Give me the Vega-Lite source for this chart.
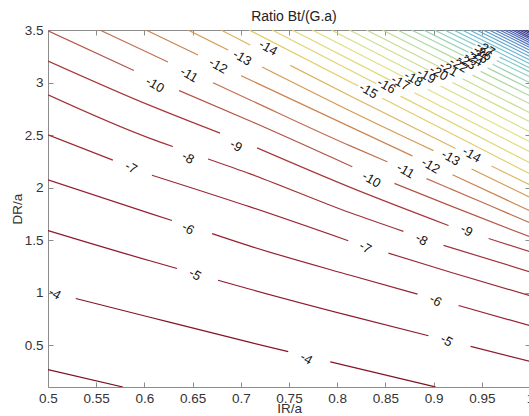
{
  "$schema": "https://vega.github.io/schema/vega-lite/v6.json",
  "width": 482,
  "height": 357,
  "autosize": {"type": "none"},
  "padding": {"left": 48, "top": 30, "right": 0, "bottom": 29},
  "background": "white",
  "title": {"text": "Ratio Bt/(G.a)", "fontSize": 14, "font": "Liberation Sans", "fontWeight": "normal", "color": "#222222", "offset": -1, "dx": 5},
  "config": {
    "view": {"stroke": null},
    "axis": {"grid": false, "tickSize": -5, "labelFlush": false, "domainColor": "#8c8c8c", "tickColor": "#8c8c8c", "labelColor": "#333333", "labelFont": "Liberation Sans", "labelFontSize": 13.5, "titleFont": "Liberation Sans", "titleFontSize": 13.5, "titleFontWeight": "normal", "titleColor": "#333333", "domainWidth": 1, "tickWidth": 1}
  },
  "resolve": {"axis": {"x": "independent", "y": "independent"}},
  "layer": [
    {
      "data": {"values": [
        {"L":-3,"id":"3a","x":0.5,"y":0.265},{"L":-3,"id":"3a","x":0.5777,"y":0.1},
        {"L":-4,"id":"4a","x":0.5288,"y":0.943},{"L":-4,"id":"4a","x":0.6057,"y":0.764},{"L":-4,"id":"4a","x":0.7097,"y":0.525},{"L":-4,"id":"4a","x":0.7492,"y":0.437},
        {"L":-4,"id":"4b","x":0.7928,"y":0.340},{"L":-4,"id":"4b","x":0.8136,"y":0.294},{"L":-4,"id":"4b","x":0.9020,"y":0.1},
        {"L":-5,"id":"5a","x":0.5,"y":1.590},{"L":-5,"id":"5a","x":0.6057,"y":1.302},{"L":-5,"id":"5a","x":0.6338,"y":1.229},
        {"L":-5,"id":"5b","x":0.6764,"y":1.117},{"L":-5,"id":"5b","x":0.7097,"y":1.031},{"L":-5,"id":"5b","x":0.8136,"y":0.777},{"L":-5,"id":"5b","x":0.8947,"y":0.588},
        {"L":-5,"id":"5c","x":0.9384,"y":0.487},{"L":-5,"id":"5c","x":1.0,"y":0.344},
        {"L":-6,"id":"6a","x":0.5,"y":2.073},{"L":-6,"id":"6a","x":0.6057,"y":1.754},{"L":-6,"id":"6a","x":0.6286,"y":1.686},
        {"L":-6,"id":"6b","x":0.6702,"y":1.561},{"L":-6,"id":"6b","x":0.7097,"y":1.442},{"L":-6,"id":"6b","x":0.8136,"y":1.164},{"L":-6,"id":"6b","x":0.8833,"y":0.985},
        {"L":-6,"id":"6c","x":0.9259,"y":0.876},{"L":-6,"id":"6c","x":1.0,"y":0.684},
        {"L":-7,"id":"7a","x":0.5,"y":2.501},{"L":-7,"id":"7a","x":0.5673,"y":2.261},
        {"L":-7,"id":"7b","x":0.6078,"y":2.117},{"L":-7,"id":"7b","x":0.7097,"y":1.815},{"L":-7,"id":"7b","x":0.8115,"y":1.493},
        {"L":-7,"id":"7c","x":0.8531,"y":1.375},{"L":-7,"id":"7c","x":0.9176,"y":1.193},{"L":-7,"id":"7c","x":1.0,"y":0.969},
        {"L":-8,"id":"8a","x":0.5,"y":2.882},{"L":-8,"id":"8a","x":0.6057,"y":2.468},{"L":-8,"id":"8a","x":0.6296,"y":2.390},
        {"L":-8,"id":"8b","x":0.6660,"y":2.272},{"L":-8,"id":"8b","x":0.7097,"y":2.130},{"L":-8,"id":"8b","x":0.8136,"y":1.759},{"L":-8,"id":"8b","x":0.8687,"y":1.582},
        {"L":-8,"id":"8c","x":0.9103,"y":1.449},{"L":-8,"id":"8c","x":1.0,"y":1.197},
        {"L":-9,"id":"9a","x":0.5,"y":3.205},{"L":-9,"id":"9a","x":0.6057,"y":2.782},{"L":-9,"id":"9a","x":0.6785,"y":2.518},
        {"L":-9,"id":"9b","x":0.7169,"y":2.377},{"L":-9,"id":"9b","x":0.8136,"y":2.001},{"L":-9,"id":"9b","x":0.9155,"y":1.638},
        {"L":-9,"id":"9c","x":0.9571,"y":1.514},{"L":-9,"id":"9c","x":1.0,"y":1.388},
        {"L":-10,"id":"10a","x":0.5,"y":3.493},{"L":-10,"id":"10a","x":0.5891,"y":3.114},
        {"L":-10,"id":"10b","x":0.6359,"y":2.924},{"L":-10,"id":"10b","x":0.7097,"y":2.634},{"L":-10,"id":"10b","x":0.8157,"y":2.198},
        {"L":-10,"id":"10c","x":0.8594,"y":2.039},{"L":-10,"id":"10c","x":0.9176,"y":1.825},{"L":-10,"id":"10c","x":1.0,"y":1.530},
        {"L":-11,"id":"11a","x":0.5537,"y":3.5},{"L":-11,"id":"11a","x":0.6057,"y":3.276},{"L":-11,"id":"11a","x":0.6244,"y":3.196},
        {"L":-11,"id":"11b","x":0.6712,"y":2.998},{"L":-11,"id":"11b","x":0.7097,"y":2.834},{"L":-11,"id":"11b","x":0.8136,"y":2.396},{"L":-11,"id":"11b","x":0.8521,"y":2.245},
        {"L":-11,"id":"11c","x":0.8926,"y":2.085},{"L":-11,"id":"11c","x":0.9176,"y":1.987},{"L":-11,"id":"11c","x":1.0,"y":1.664},
        {"L":-12,"id":"12a","x":0.6016,"y":3.5},{"L":-12,"id":"12a","x":0.6556,"y":3.262},
        {"L":-12,"id":"12b","x":0.7003,"y":3.065},{"L":-12,"id":"12b","x":0.8136,"y":2.577},{"L":-12,"id":"12b","x":0.8781,"y":2.300},
        {"L":-12,"id":"12c","x":0.9196,"y":2.121},{"L":-12,"id":"12c","x":1.0,"y":1.778},
        {"L":-13,"id":"13a","x":0.6452,"y":3.5},{"L":-13,"id":"13a","x":0.6868,"y":3.310},
        {"L":-13,"id":"13b","x":0.7221,"y":3.148},{"L":-13,"id":"13b","x":0.8136,"y":2.729},{"L":-13,"id":"13b","x":0.8999,"y":2.351},
        {"L":-13,"id":"13c","x":0.9394,"y":2.176},{"L":-13,"id":"13c","x":1.0,"y":1.906},
        {"L":-14,"id":"14a","x":0.6795,"y":3.5},{"L":-14,"id":"14a","x":0.7097,"y":3.357},
        {"L":-14,"id":"14b","x":0.7513,"y":3.163},{"L":-14,"id":"14b","x":0.8136,"y":2.872},{"L":-14,"id":"14b","x":0.9228,"y":2.372},
        {"L":-14,"id":"14c","x":0.9600,"y":2.204},{"L":-14,"id":"14c","x":1.0,"y":2.025},
        {"L":-15,"id":"15a","x":0.7086,"y":3.5},{"L":-15,"id":"15a","x":0.8219,"y":2.967},{"L":-15,"id":"15b","x":0.8469,"y":2.850},{"L":-15,"id":"15b","x":1.0,"y":2.130},
        {"L":-16,"id":"16a","x":0.7325,"y":3.5},{"L":-16,"id":"16a","x":0.8406,"y":2.988},{"L":-16,"id":"16b","x":0.8656,"y":2.870},{"L":-16,"id":"16b","x":1.0,"y":2.234},
        {"L":-17,"id":"17a","x":0.7533,"y":3.5},{"L":-17,"id":"17a","x":0.8552,"y":3.020},{"L":-17,"id":"17b","x":0.8801,"y":2.903},{"L":-17,"id":"17b","x":1.0,"y":2.339},
        {"L":-18,"id":"18a","x":0.7741,"y":3.5},{"L":-18,"id":"18a","x":0.8687,"y":3.054},{"L":-18,"id":"18b","x":0.8937,"y":2.936},{"L":-18,"id":"18b","x":1.0,"y":2.434},
        {"L":-19,"id":"19a","x":0.7939,"y":3.5},{"L":-19,"id":"19a","x":0.8822,"y":3.084},{"L":-19,"id":"19b","x":0.9072,"y":2.966},{"L":-19,"id":"19b","x":1.0,"y":2.529},
        {"L":-20,"id":"20a","x":0.8126,"y":3.5},{"L":-20,"id":"20a","x":0.8947,"y":3.117},{"L":-20,"id":"20b","x":0.9196,"y":3.000},{"L":-20,"id":"20b","x":1.0,"y":2.625},
        {"L":-21,"id":"21a","x":0.8303,"y":3.5},{"L":-21,"id":"21a","x":0.9051,"y":3.152},{"L":-21,"id":"21b","x":0.9300,"y":3.036},{"L":-21,"id":"21b","x":1.0,"y":2.710},
        {"L":-22,"id":"22a","x":0.8469,"y":3.5},{"L":-22,"id":"22a","x":0.9155,"y":3.184},{"L":-22,"id":"22b","x":0.9404,"y":3.070},{"L":-22,"id":"22b","x":1.0,"y":2.796},
        {"L":-23,"id":"23a","x":0.8625,"y":3.5},{"L":-23,"id":"23a","x":0.9238,"y":3.220},{"L":-23,"id":"23b","x":0.9488,"y":3.106},{"L":-23,"id":"23b","x":1.0,"y":2.872},
        {"L":-24,"id":"24a","x":0.8770,"y":3.5},{"L":-24,"id":"24a","x":0.9311,"y":3.254},{"L":-24,"id":"24b","x":0.9560,"y":3.139},{"L":-24,"id":"24b","x":1.0,"y":2.939},
        {"L":-25,"id":"25a","x":0.8895,"y":3.5},{"L":-25,"id":"25a","x":0.9363,"y":3.287},{"L":-25,"id":"25b","x":0.9612,"y":3.173},{"L":-25,"id":"25b","x":1.0,"y":2.996},
        {"L":-26,"id":"26a","x":0.9007,"y":3.5},{"L":-26,"id":"26a","x":0.9404,"y":3.322},{"L":-26,"id":"26b","x":0.9654,"y":3.209},{"L":-26,"id":"26b","x":1.0,"y":3.053},
        {"L":-27,"id":"27a","x":0.9113,"y":3.5},{"L":-27,"id":"27a","x":0.9436,"y":3.354},{"L":-27,"id":"27b","x":0.9685,"y":3.242},{"L":-27,"id":"27b","x":1.0,"y":3.100},
        {"L":-28,"id":"28a","x":0.9207,"y":3.5},{"L":-28,"id":"28a","x":1.0,"y":3.137},
        {"L":-29,"id":"29a","x":0.9295,"y":3.5},{"L":-29,"id":"29a","x":1.0,"y":3.177},
        {"L":-30,"id":"30a","x":0.9373,"y":3.5},{"L":-30,"id":"30a","x":1.0,"y":3.213},
        {"L":-31,"id":"31a","x":0.9446,"y":3.5},{"L":-31,"id":"31a","x":1.0,"y":3.246},
        {"L":-32,"id":"32a","x":0.9514,"y":3.5},{"L":-32,"id":"32a","x":1.0,"y":3.277},
        {"L":-33,"id":"33a","x":0.9576,"y":3.5},{"L":-33,"id":"33a","x":1.0,"y":3.306},
        {"L":-34,"id":"34a","x":0.9633,"y":3.5},{"L":-34,"id":"34a","x":1.0,"y":3.332},
        {"L":-35,"id":"35a","x":0.9685,"y":3.5},{"L":-35,"id":"35a","x":1.0,"y":3.355},
        {"L":-36,"id":"36a","x":0.9732,"y":3.5},{"L":-36,"id":"36a","x":1.0,"y":3.377},
        {"L":-37,"id":"37a","x":0.9773,"y":3.5},{"L":-37,"id":"37a","x":1.0,"y":3.396},
        {"L":-38,"id":"38a","x":0.9815,"y":3.5},{"L":-38,"id":"38a","x":1.0,"y":3.415},
        {"L":-39,"id":"39a","x":0.9851,"y":3.5},{"L":-39,"id":"39a","x":1.0,"y":3.431},
        {"L":-40,"id":"40a","x":0.9888,"y":3.5},{"L":-40,"id":"40a","x":1.0,"y":3.449},
        {"L":-41,"id":"41a","x":0.9924,"y":3.5},{"L":-41,"id":"41a","x":1.0,"y":3.465},
        {"L":-42,"id":"42a","x":0.9955,"y":3.5},{"L":-42,"id":"42a","x":1.0,"y":3.479}
      ]},
      "mark": {"type": "line", "interpolate": "monotone", "strokeWidth": 1.2, "clip": true},
      "encoding": {
        "x": {"field": "x", "type": "quantitative", "scale": {"domain": [0.5, 1], "nice": false, "zero": false},
              "axis": {"orient": "bottom", "title": "IR/a", "values": [0.5,0.55,0.6,0.65,0.7,0.75,0.8,0.85,0.9,0.95,1], "format": "~g", "labelPadding": 9, "titlePadding": -3}},
        "y": {"field": "y", "type": "quantitative", "scale": {"domain": [0.1, 3.5], "nice": false, "zero": false},
              "axis": {"orient": "left", "title": "DR/a", "values": [0.5,1,1.5,2,2.5,3,3.5], "format": "~g", "labelPadding": 10, "titlePadding": 0}},
        "detail": {"field": "id", "type": "nominal"},
        "color": {"field": "L", "type": "quantitative", "legend": null,
                  "scale": {"domain": [-42,-38,-34,-30,-26,-22,-18,-15,-13,-11,-9,-6,-3],
                            "range": ["#2e2066","#4048a4","#5480c4","#68b4d0","#90d0c0","#bcdc98","#e0e080","#e2cc6a","#d49a52","#c0704f","#a8383c","#962030","#7a1020"],
                            "interpolate": "rgb"}}
      }
    },
    {
      "data": {"values": [
        {"t":"-4","x":0.5070,"y":0.988},{"t":"-4","x":0.7679,"y":0.370},
        {"t":"-5","x":0.6525,"y":1.169},{"t":"-5","x":0.9134,"y":0.541},
        {"t":"-6","x":0.6452,"y":1.607},{"t":"-6","x":0.9020,"y":0.921},
        {"t":"-7","x":0.5860,"y":2.187},{"t":"-7","x":0.8292,"y":1.426},
        {"t":"-8","x":0.6452,"y":2.282},{"t":"-8","x":0.8874,"y":1.502},
        {"t":"-9","x":0.6951,"y":2.396},{"t":"-9","x":0.9342,"y":1.588},
        {"t":"-10","x":0.6109,"y":2.977},{"t":"-10","x":0.8354,"y":2.073},
        {"t":"-11","x":0.6463,"y":3.072},{"t":"-11","x":0.8708,"y":2.158},
        {"t":"-12","x":0.6764,"y":3.157},{"t":"-12","x":0.8968,"y":2.206},
        {"t":"-13","x":0.7014,"y":3.234},{"t":"-13","x":0.9176,"y":2.282},
        {"t":"-14","x":0.7284,"y":3.329},{"t":"-14","x":0.9394,"y":2.311},
        {"t":"-15","x":0.8323,"y":2.920},{"t":"-16","x":0.8510,"y":2.967},{"t":"-17","x":0.8656,"y":2.996},
        {"t":"-18","x":0.8791,"y":3.034},{"t":"-19","x":0.8926,"y":3.062},{"t":"-20","x":0.9051,"y":3.091},
        {"t":"-21","x":0.9155,"y":3.129},{"t":"-22","x":0.9259,"y":3.167},{"t":"-23","x":0.9342,"y":3.195},
        {"t":"-24","x":0.9415,"y":3.224},{"t":"-25","x":0.9467,"y":3.253},{"t":"-26","x":0.9508,"y":3.281},
        {"t":"-27","x":0.9540,"y":3.319}
      ]},
      "mark": {"type": "text", "font": "Liberation Sans", "fontSize": 13, "angle": 30, "align": "center", "baseline": "middle", "color": "#111111"},
      "encoding": {
        "x": {"field": "x", "type": "quantitative", "scale": {"domain": [0.5, 1], "nice": false, "zero": false},
              "axis": {"orient": "top", "title": null, "labels": false, "values": [0.5,0.55,0.6,0.65,0.7,0.75,0.8,0.85,0.9,0.95,1]}},
        "y": {"field": "y", "type": "quantitative", "scale": {"domain": [0.1, 3.5], "nice": false, "zero": false},
              "axis": {"orient": "right", "title": null, "labels": false, "values": [0.5,1,1.5,2,2.5,3,3.5]}},
        "text": {"field": "t", "type": "nominal"}
      }
    }
  ]
}
